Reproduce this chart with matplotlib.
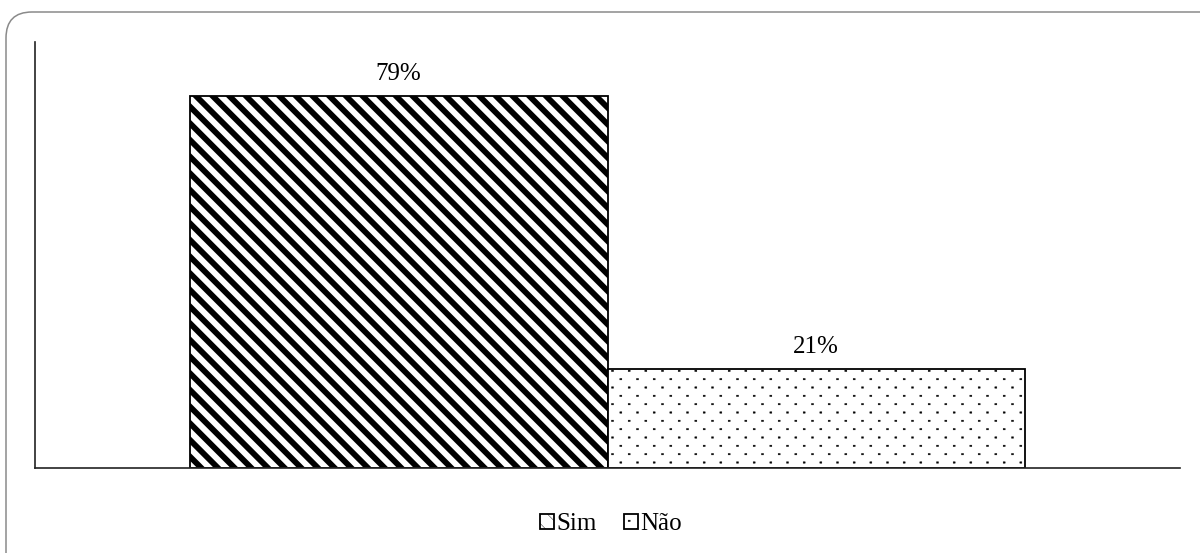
import matplotlib

matplotlib.use("Agg")
import numpy as np  # noqa: E402
import matplotlib.pyplot as plt  # noqa: E402
from matplotlib import hatch as mhatch  # noqa: E402
from matplotlib.path import Path  # noqa: E402
from matplotlib.patches import FancyBboxPatch  # noqa: E402

SERIES = ["Sim", "Não"]
VALUES = [79, 21]
LABELS = ["79%", "21%"]
HATCHES = ["\\\\", "."]
HATCH_WIDTHS = [4.2, 0.3]


class SparseDots(mhatch.HatchPatternBase):
    """Office-style '5%' dot fill: rows twice as dense as columns, staggered."""

    half_w = 0.010
    half_h = 0.007

    def __init__(self, hatch, density):
        self.cols = hatch.count(".") * density
        self.rows = 2 * self.cols
        self.num_vertices = self.rows * self.cols * 5

    def set_vertices_and_codes(self, vertices, codes):
        square = np.array([[-1, -1], [1, -1], [1, 1], [-1, 1], [-1, -1]], float)
        square *= [self.half_w, self.half_h]
        cursor = 0
        for r in range(self.rows):
            y = (r + 0.5) / self.rows
            shift = 0.5 if r % 2 else 0.0
            for c in range(self.cols):
                x = (c + 0.25 + shift) / self.cols
                vertices[cursor:cursor + 5] = square + [x, y]
                codes[cursor:cursor + 5] = [Path.MOVETO, Path.LINETO,
                                            Path.LINETO, Path.LINETO,
                                            Path.CLOSEPOLY]
                cursor += 5


# '.' draws the sparse dot grid instead of matplotlib's filled circles
mhatch._hatch_types = [
    SparseDots if t is mhatch.SmallFilledCircles else t
    for t in mhatch._hatch_types
]

plt.rcParams["font.family"] = ["Liberation Serif", "DejaVu Serif"]
plt.rcParams["hatch.color"] = "black"

fig = plt.figure(figsize=(12, 5.53), dpi=100)
ax = fig.add_axes([0.02917, 0.1537, 0.95417, 0.7704])

# rounded chart-area border, running off the right and bottom edges
frame = FancyBboxPatch(
    (6, -30), 1230, 571,
    boxstyle="round,pad=0,rounding_size=26",
    transform=None, facecolor="none", edgecolor="#8a8a8a", linewidth=1.1,
    zorder=0,
)
fig.patches.append(frame)

positions = [-0.5, 0.5]
handles = []
for x, val, lab, name, hatch, hw in zip(positions, VALUES, LABELS, SERIES,
                                        HATCHES, HATCH_WIDTHS):
    plt.rcParams["hatch.linewidth"] = hw
    bars = ax.bar(x, val, width=1.0, color="white", edgecolor="black",
                  hatch=hatch, linewidth=1.3, label=name)
    handles.append(bars)
    ax.annotate(lab, (x, val), xytext=(0, 11.5), textcoords="offset points",
                ha="center", va="baseline", fontsize=18)

ax.set_xlim(-1.371, 1.371)
ax.set_ylim(0, 90.5)
ax.set_xticks([])
ax.set_yticks([])
for side in ("top", "right"):
    ax.spines[side].set_visible(False)
for side in ("left", "bottom"):
    ax.spines[side].set_color("#222222")
    ax.spines[side].set_linewidth(1.2)

fig.legend(
    handles, SERIES, loc="center", bbox_to_anchor=(611 / 1200, 1 - 524 / 553),
    ncol=2, frameon=False, fontsize=18, handlelength=0.55, handleheight=0.55,
    handletextpad=0.1, columnspacing=1.1, borderpad=0.2,
)

fig.savefig("out.png", dpi=100)
